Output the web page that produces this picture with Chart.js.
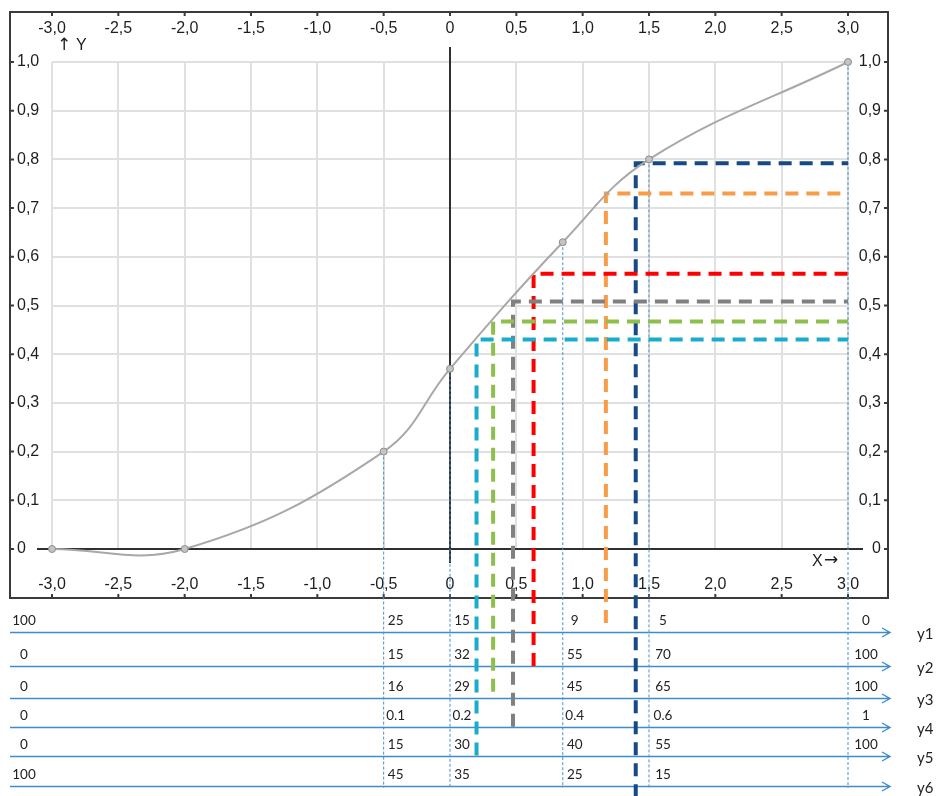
<!DOCTYPE html>
<html>
<head>
<meta charset="utf-8">
<script src="https://cdn.jsdelivr.net/npm/chart.js@4.4.0/dist/chart.umd.min.js"></script>
<style>
  html, body { margin: 0; padding: 0; background: #fff; }
</style>
</head>
<body>
<canvas id="myChart" width="937" height="796"></canvas>
<script>
// curve knots
const knotX = [-3, -2, -0.5, 0, 0.85, 1.5, 3];
const knotY = [0, 0, 0.2, 0.37, 0.63, 0.8, 1.0];

// thin dotted drop lines under some knots
const dropX = [-0.5, 0, 0.85, 1.5, 3];
const dropBottom = -0.49;

// thick dashed read-off guides (cyan, green, gray, red, orange, navy)
const guideX = [0.2, 0.325, 0.475, 0.63, 1.175, 1.4];
const guideY = [0.43, 0.467, 0.508, 0.565, 0.73, 0.792];
const guideBottom = [-0.424, -0.293, -0.365, -0.24, -0.152, -0.51];
const guideColors = ['#1aaccb', '#8dc04b', '#808080', '#ff0000', '#f89c48', '#174a85'];

// table under the chart, one column per knot
const tableColX = [-3, -0.5, 0, 0.85, 1.5, 3];
const rowNames = ['y1', 'y2', 'y3', 'y4', 'y5', 'y6'];
const y1Vals = ['100', '25', '15', '9', '5', '0'];
const y2Vals = ['0', '15', '32', '55', '70', '100'];
const y3Vals = ['0', '16', '29', '45', '65', '100'];
const y4Vals = ['0', '0.1', '0.2', '0.4', '0.6', '1'];
const y5Vals = ['0', '15', '30', '40', '55', '100'];
const y6Vals = ['100', '45', '35', '25', '15', ''];
const tableRows = [y1Vals, y2Vals, y3Vals, y4Vals, y5Vals, y6Vals];

// layout only: where the table row arrows sit (in y units, below 0)
const rowLineAt = [-0.170, -0.240, -0.306, -0.365, -0.425, -0.487];
const colOffset = [-28, 12, 12, 12, 14, 18];
const frame = { left: 10, top: 12, right: 888, bottom: 598 };

const tickFont = { family: "'Liberation Sans', Arial, sans-serif", size: 16 };
const tickColor = '#1e1e1e';
const fmt = v => Math.abs(v) < 1e-9 ? '0' : v.toFixed(1).replace('.', ',');

function curveAt(x) {
  return knotY[knotX.indexOf(x)];
}

const datasets = [];
datasets.push({
  label: 'curve',
  data: knotX.map((x, i) => ({ x: x, y: knotY[i] })),
  borderColor: '#a8a8a8',
  borderWidth: 2,
  tension: 0.4,
  pointRadius: 3.5,
  pointBackgroundColor: '#c4c4c4',
  pointBorderColor: '#8c8c8c',
  pointBorderWidth: 1,
  clip: false,
  order: 0
});
guideX.forEach((gx, i) => {
  datasets.push({
    label: 'guide' + i,
    data: [{ x: gx, y: guideBottom[i] }, { x: gx, y: guideY[i] }, { x: 3, y: guideY[i] }],
    borderColor: guideColors[i],
    borderWidth: 4,
    borderDash: [13, 8],
    tension: 0,
    pointRadius: 0,
    clip: false,
    order: 1
  });
});
dropX.forEach((dx, i) => {
  datasets.push({
    label: 'drop' + i,
    data: [{ x: dx, y: curveAt(dx) }, { x: dx, y: dropBottom }],
    borderColor: '#4a90d0',
    borderWidth: 1,
    borderDash: [3, 2],
    tension: 0,
    pointRadius: 0,
    clip: false,
    order: 2
  });
});

const decor = {
  id: 'decor',
  beforeDatasetsDraw(chart) {
    const ctx = chart.ctx;
    const xs = chart.scales.x, ys = chart.scales.y;
    const px = v => xs.getPixelForValue(v);
    const py = v => ys.getPixelForValue(v);
    ctx.save();

    // black axes through 0
    ctx.strokeStyle = '#303030';
    ctx.lineWidth = 2;
    ctx.beginPath();
    ctx.moveTo(px(0), py(1) - 15);
    ctx.lineTo(px(0), py(0) + 14);
    ctx.moveTo(px(-3) - 15, py(0));
    ctx.lineTo(px(3) + 15, py(0));
    ctx.stroke();

    // axis names
    ctx.fillStyle = tickColor;
    ctx.textBaseline = 'middle';
    ctx.textAlign = 'left';
    ctx.font = "17px 'DejaVu Sans', sans-serif";
    ctx.fillText('\u2191', px(-3) + 5, py(1) - 16);
    ctx.fillText('\u2192', px(3) - 24, py(0) + 12);
    ctx.font = "16px 'Liberation Sans', Arial, sans-serif";
    ctx.fillText('Y', px(-3) + 24, py(1) - 16);
    ctx.fillText('X', px(3) - 36, py(0) + 13);

    // outer frame with inward ticks
    ctx.strokeStyle = '#3a3a3a';
    ctx.lineWidth = 2;
    ctx.strokeRect(frame.left, frame.top, frame.right - frame.left, frame.bottom - frame.top);
    ctx.beginPath();
    xs.ticks.forEach(t => {
      const x = px(t.value);
      ctx.moveTo(x, frame.top); ctx.lineTo(x, frame.top + 4);
      ctx.moveTo(x, frame.bottom); ctx.lineTo(x, frame.bottom - 4);
    });
    ys.ticks.forEach(t => {
      const y = py(t.value);
      ctx.moveTo(frame.left, y); ctx.lineTo(frame.left + 4, y);
      ctx.moveTo(frame.right, y); ctx.lineTo(frame.right - 4, y);
    });
    ctx.stroke();

    // table rows: arrow, values, row name
    rowLineAt.forEach((rv, r) => {
      const y = Math.round(py(rv)) + 0.5;
      const tipX = frame.right + 2;
      ctx.strokeStyle = '#3f8ccc';
      ctx.lineWidth = 1.4;
      ctx.beginPath();
      ctx.moveTo(frame.left, y);
      ctx.lineTo(tipX, y);
      ctx.moveTo(tipX - 8, y - 4.5);
      ctx.lineTo(tipX, y);
      ctx.lineTo(tipX - 8, y + 4.5);
      ctx.stroke();

      ctx.fillStyle = '#222';
      ctx.font = "13.5px Lato, 'Noto Sans', sans-serif";
      ctx.textAlign = 'center';
      ctx.textBaseline = 'middle';
      tableRows[r].forEach((txt, c) => {
        if (txt) ctx.fillText(txt, px(tableColX[c]) + colOffset[c], y - 12);
      });

      ctx.font = "15px Lato, 'Noto Sans', sans-serif";
      ctx.textAlign = 'left';
      ctx.fillText(rowNames[r], 917, y + 2);
    });

    ctx.restore();
  }
};

const tickOpts = pad => ({
  stepSize: 0.5,
  autoSkip: false,
  maxRotation: 0,
  padding: pad,
  font: tickFont,
  color: tickColor,
  callback: v => fmt(v)
});

new Chart(document.getElementById('myChart'), {
  type: 'line',
  data: { datasets: datasets },
  options: {
    responsive: false,
    animation: false,
    events: [],
    layout: { padding: { left: 17, right: 56, top: 12, bottom: 198 } },
    elements: { line: { capBezierPoints: false } },
    plugins: { legend: { display: false }, tooltip: { enabled: false } },
    scales: {
      x: {
        type: 'linear', position: 'bottom', min: -3, max: 3,
        ticks: tickOpts(26),
        grid: { color: '#e0e0e0', lineWidth: 2, drawTicks: false },
        border: { display: false },
        afterFit: s => { s.height = 49; }
      },
      xTop: {
        type: 'linear', position: 'top', min: -3, max: 3,
        ticks: tickOpts(24),
        grid: { display: false, drawTicks: false },
        border: { display: false },
        afterFit: s => { s.height = 50; }
      },
      y: {
        type: 'linear', position: 'left', min: 0, max: 1,
        ticks: { stepSize: 0.1, padding: 0, crossAlign: 'far', font: tickFont, color: tickColor, callback: v => fmt(v) },
        grid: { color: '#e0e0e0', lineWidth: 2, drawTicks: false },
        border: { display: false },
        afterFit: s => { s.width = 35; }
      },
      yRight: {
        type: 'linear', position: 'right', min: 0, max: 1,
        ticks: { stepSize: 0.1, padding: 0, crossAlign: 'far', font: tickFont, color: tickColor, callback: v => fmt(v) },
        grid: { display: false, drawTicks: false },
        border: { display: false },
        afterFit: s => { s.width = 33; }
      }
    }
  },
  plugins: [decor]
});
</script>
</body>
</html>
